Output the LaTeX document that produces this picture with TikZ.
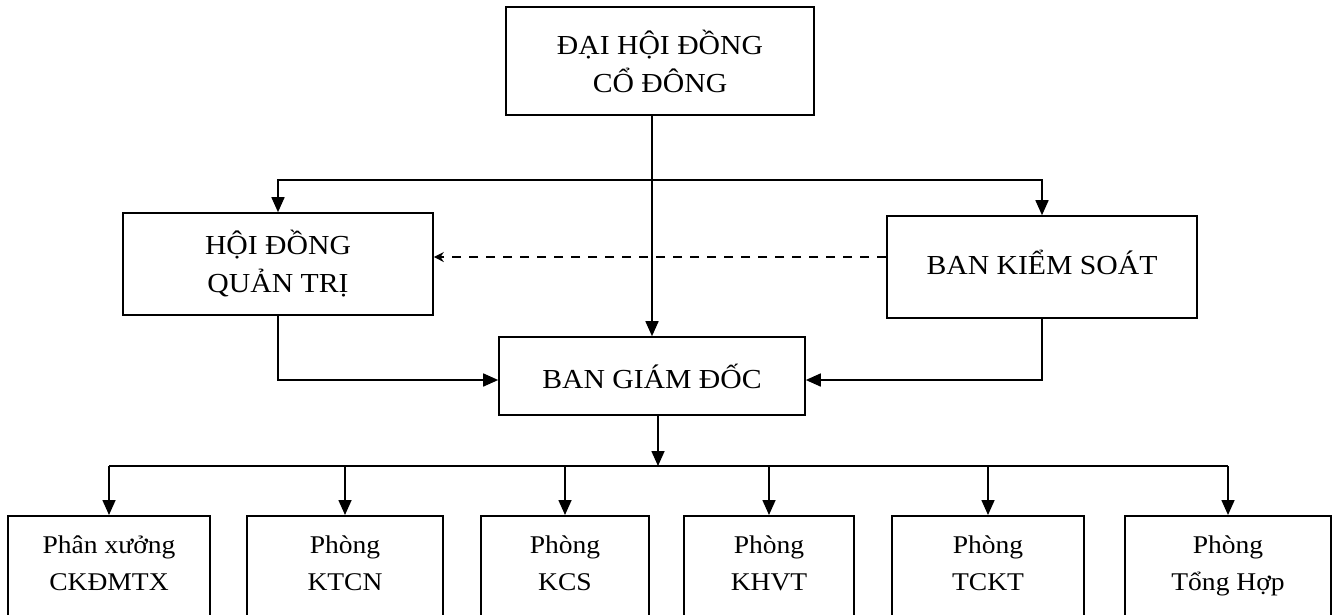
\documentclass[tikz,border=0pt]{standalone}
\usepackage{fontspec}
\setmainfont{Liberation Serif}[FakeStretch=1.08]
\usetikzlibrary{arrows.meta}
\tikzset{
  box/.style={draw=black, line width=1.6pt, align=center, inner sep=0pt, fill=white},
  bigtxt/.style={font=\fontsize{27.5}{38}\selectfont},
  smalltxt/.style={font=\fontsize{25.5}{37}\selectfont},
  conn/.style={line width=1.6pt},
  arr/.style={conn, -{Triangle[length=15pt,width=13pt]}},
  darr/.style={line width=1.4pt, dash pattern=on 9pt off 8pt, -{Stealth[length=10pt,width=10pt]}},
}
\begin{document}
\begin{tikzpicture}[x=1pt,y=-1pt]
\useasboundingbox (0,0) rectangle (1338,614);
\clip (0,0) rectangle (1338,614);
% main boxes
\node[box,bigtxt,minimum width=308pt,minimum height=108pt] (dhcd) at (660,61) {ĐẠI HỘI ĐỒNG\\CỔ ĐÔNG};
\node[box,bigtxt,minimum width=310pt,minimum height=102pt] (hdqt) at (278,264) {HỘI ĐỒNG\\QUẢN TRỊ};
\node[box,bigtxt,minimum width=310pt,minimum height=102pt] (bks) at (1042,267) {BAN KIỂM SOÁT\rule[-10pt]{0pt}{0pt}};
\node[box,bigtxt,minimum width=306pt,minimum height=78pt] (bgd) at (652,376) {BAN GIÁM ĐỐC};
% bottom boxes
\node[box,minimum width=202pt,minimum height=106pt,anchor=north] (p1) at (109,515) {};
\node[box,minimum width=196pt,minimum height=106pt,anchor=north] (p2) at (345,515) {};
\node[box,minimum width=168pt,minimum height=106pt,anchor=north] (p3) at (565,515) {};
\node[box,minimum width=170pt,minimum height=106pt,anchor=north] (p4) at (769,515) {};
\node[box,minimum width=192pt,minimum height=106pt,anchor=north] (p5) at (988,515) {};
\node[box,minimum width=206pt,minimum height=106pt,anchor=north] (p6) at (1228,515) {};
% bottom box texts
\node[smalltxt,align=center,anchor=north] (t1) at ([yshift=-17pt]p1.north) {Phân xưởng\\CKĐMTX};
\node[smalltxt,align=center,anchor=north] (t2) at ([yshift=-17pt]p2.north) {Phòng\\KTCN};
\node[smalltxt,align=center,anchor=north] (t3) at ([yshift=-17pt]p3.north) {Phòng\\KCS};
\node[smalltxt,align=center,anchor=north] (t4) at ([yshift=-17pt]p4.north) {Phòng\\KHVT};
\node[smalltxt,align=center,anchor=north] (t5) at ([yshift=-17pt]p5.north) {Phòng\\TCKT};
\node[smalltxt,align=center,anchor=north] (t6) at ([yshift=-17pt]p6.north) {Phòng\\Tổng Hợp};
% helper coordinates
\coordinate (bus1) at (652,180);
\coordinate (dl) at (0,257);
\coordinate (bus2) at (658,466);
% connectors
\draw[arr] (bgd.north |- dhcd.south) -- (bgd.north);
\draw[arr] (bus1) -| (hdqt.north);
\draw[arr] (bus1) -| (bks.north);
\draw[darr] (bks.west |- dl) -- (hdqt.east |- dl);
\draw[arr] (hdqt.south) |- ([yshift=-4pt]bgd.west);
\draw[arr] (bks.south) |- ([yshift=-4pt]bgd.east);
\draw[arr] (bus2 |- bgd.south) -- (bus2);
\draw[conn] (p1.north |- bus2) -- (p6.north |- bus2);
\foreach \p in {p1,p2,p3,p4,p5,p6} {
  \draw[arr] (\p.north |- bus2) -- (\p.north);
}
\end{tikzpicture}
\end{document}
